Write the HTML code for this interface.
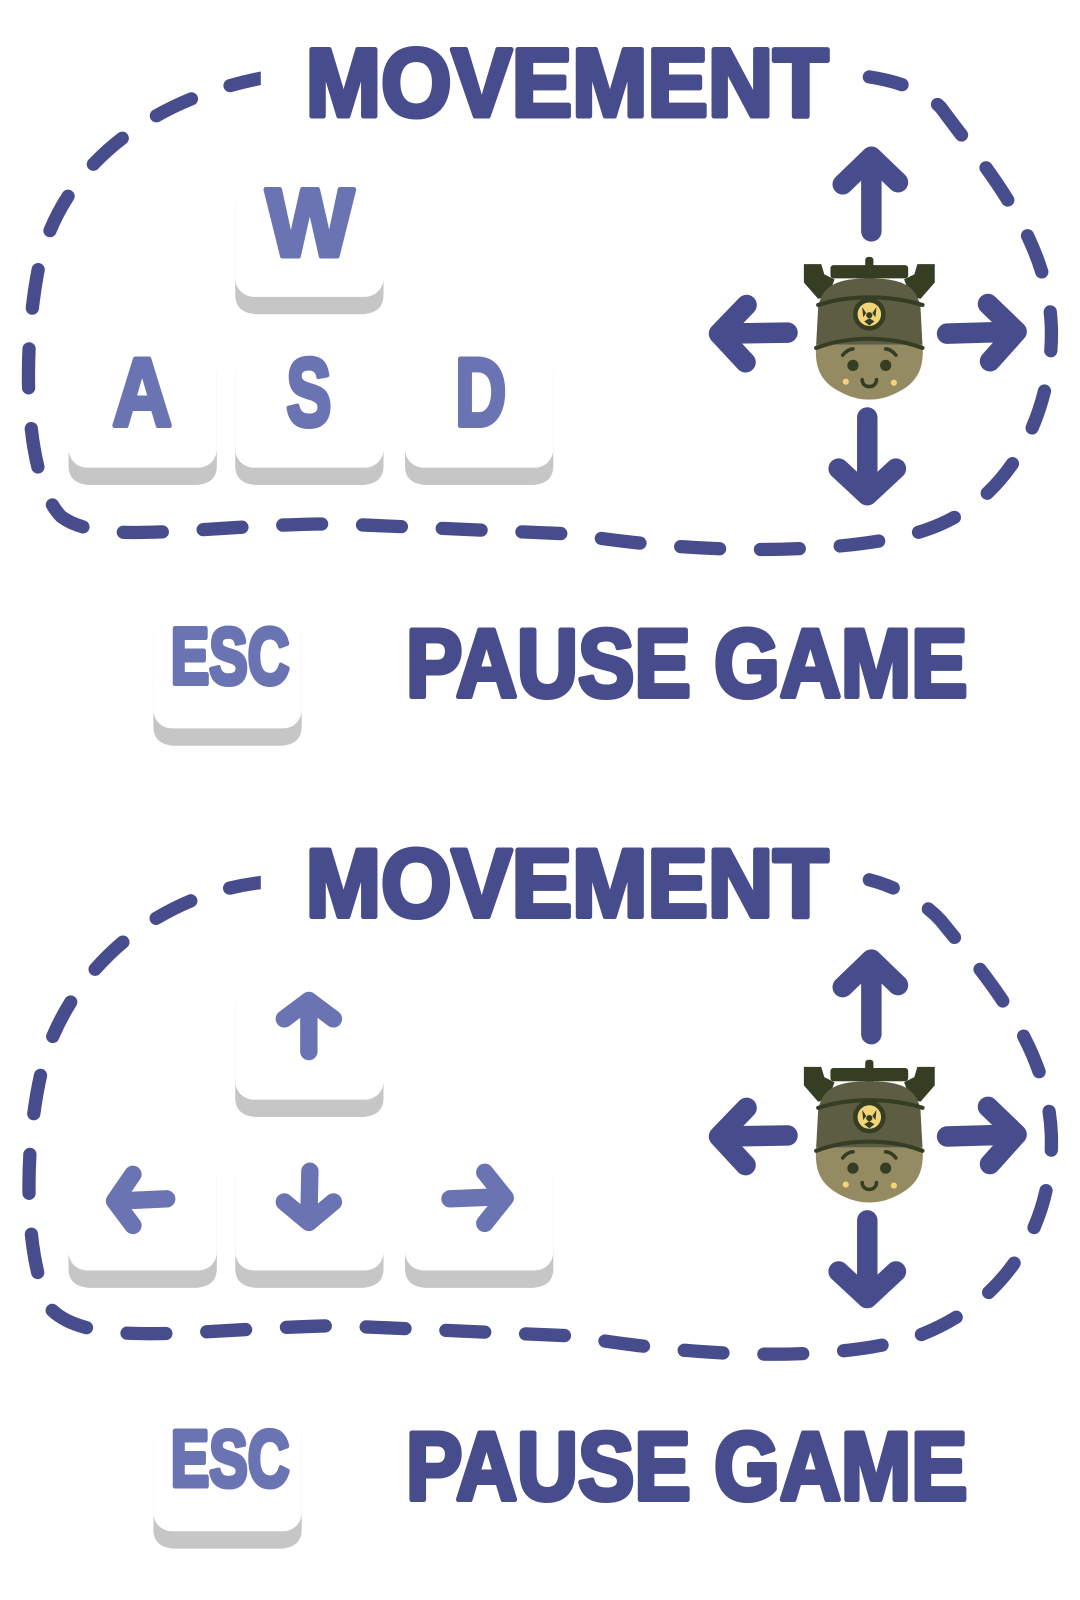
<!DOCTYPE html>
<html><head><meta charset="utf-8"><style>
html,body{margin:0;padding:0;background:#fff;width:1080px;height:1600px;overflow:hidden}
svg{display:block}
text{font-family:"Liberation Sans",sans-serif;font-weight:bold;stroke-width:5;stroke-linejoin:round}
</style></head><body>
<svg width="1080" height="1600" viewBox="0 0 1056 1564" xmlns="http://www.w3.org/2000/svg">
<defs>
<g id="char">
  <path d="M786,258 L803,258 L806,268 L816,273 L810,289 L800,292 L786,276 Z" fill="#353d23"/>
  <path d="M914,258 L897,258 L894,268 L884,273 L890,289 L900,292 L914,276 Z" fill="#353d23"/>
  <rect x="812" y="259" width="76" height="13" rx="3" fill="#353d23"/>
  <rect x="846" y="251" width="8" height="36" rx="3" fill="#353d23"/>
  <path d="M800,300 C804,278 820,272 850,272 C880,272 896,278 900,300 L902,337 L798,337 Z" fill="#5c5d43"/>
  <path d="M798,337 L902,337 C904,362 896,376 872,386 C858,392 842,392 828,386 C804,376 796,362 798,337 Z" fill="#958b62"/>
  <path d="M800,298 C830,288 870,288 902,298" stroke="#353d23" stroke-width="4" fill="none" stroke-linecap="round"/>
  <path d="M798,340 C830,328 870,328 902,340" stroke="#353d23" stroke-width="4" fill="none" stroke-linecap="round"/>
  <circle cx="850" cy="307" r="16" fill="#353d23"/>
  <circle cx="850" cy="307" r="11.5" fill="#f2d479"/>
  <circle cx="850" cy="308" r="3" fill="#353d23"/>
  <path d="M843,300 L847,306 L844,310 Z M857,300 L853,306 L856,310 Z M845,314 L850,311 L855,314 L850,318 Z" fill="#353d23"/>
  <path d="M824,347 C827,343 831,341 834,341" stroke="#353d23" stroke-width="3.5" fill="none" stroke-linecap="round"/>
  <path d="M876,347 C873,343 869,341 866,341" stroke="#353d23" stroke-width="3.5" fill="none" stroke-linecap="round"/>
  <circle cx="834" cy="357" r="5.5" fill="#353d23"/>
  <circle cx="866" cy="357" r="5.5" fill="#353d23"/>
  <circle cx="827" cy="373" r="3" fill="#f5d27a"/>
  <circle cx="874" cy="374" r="3" fill="#f5d27a"/>
  <path d="M843,371 C843,380 857,380 857,371" stroke="#353d23" stroke-width="3.5" fill="none" stroke-linecap="round"/>
</g>
<g id="arrows" stroke="#464c8c" stroke-width="20" fill="none" stroke-linecap="round" stroke-linejoin="round">
  <path d="M852,226 L852,160 M824,180 L852,153 L878,178"/>
  <path d="M770,325 L706,326 M730,298 L703,326 L729,354"/>
  <path d="M926,326 L994,324 M966/297 L994,324 L968,353"/>
  <path d="M848,408 L848,480 M820,458 L848,484 L876,458"/>
</g>
<g id="key">
  <path d="M0,30 L0,122 C0,135 8,140 20,141 L125,141 C137,140 145,135 145,122 L145,30 Z" fill="#c6c6c6"/>
  <rect x="0" y="0" width="145" height="124" rx="18" fill="#fff"/>
</g>
</defs>

<!-- PANEL 1 -->
<g>
<path d="M262,75 C150,95 60,160 38,260 C20,350 25,470 60,505 C100,535 200,512 330,512 L560,522 C700,545 840,540 905,518 C990,490 1030,400 1028,320 C1025,230 960,160 920,105 C900,85 870,78 850,75" fill="none" stroke="#464c8c" stroke-width="13" stroke-linecap="round" stroke-dasharray="38 40"/>
<rect x="255" y="30" width="580" height="100" fill="#fff"/>
<text x="299" y="113" font-size="94" fill="#464c8c" stroke="#464c8c" textLength="511" lengthAdjust="spacingAndGlyphs">MOVEMENT</text>
<g><use href="#key" x="230" y="166"/><text x="260" y="250" font-size="94" fill="#6a74b2" stroke="#6a74b2" textLength="86" lengthAdjust="spacingAndGlyphs">W</text></g>
<g><use href="#key" x="67" y="333"/><text x="110" y="416" font-size="94" fill="#6a74b2" stroke="#6a74b2" textLength="58" lengthAdjust="spacingAndGlyphs">A</text></g>
<g><use href="#key" x="230" y="333"/><text x="280" y="416" font-size="94" fill="#6a74b2" stroke="#6a74b2" textLength="44" lengthAdjust="spacingAndGlyphs">S</text></g>
<g><use href="#key" x="396" y="333"/><text x="445" y="416" font-size="94" fill="#6a74b2" stroke="#6a74b2" textLength="50" lengthAdjust="spacingAndGlyphs">D</text></g>
<g stroke="#464c8c" stroke-width="20" fill="none" stroke-linecap="round" stroke-linejoin="round">
  <path d="M852,226 L852,160 M824,180 L852,153 L878,178"/>
  <path d="M770,325 L706,326 M730,298 L703,326 L729,354"/>
  <path d="M926,326 L994,324 M966,297 L994,324 L968,353"/>
  <path d="M848,408 L848,480 M820,458 L848,484 L876,458"/>
</g>
<use href="#char"/>
<g><use href="#key" x="150" y="588"/><text x="167" y="668" font-size="78" fill="#6a74b2" stroke="#6a74b2" textLength="116" lengthAdjust="spacingAndGlyphs">ESC</text></g>
<text x="397" y="681" font-size="94" fill="#464c8c" stroke="#464c8c" textLength="549" lengthAdjust="spacingAndGlyphs">PAUSE GAME</text>
</g>

<!-- PANEL 2 -->
<g>
<path d="M262,862 C170,870 80,930 45,1030 C22,1110 22,1230 50,1280 C90,1320 200,1298 330,1296 L560,1306 C700,1330 830,1330 900,1305 C990,1270 1030,1190 1028,1110 C1025,1020 960,950 920,900 C900,878 870,865 850,860" fill="none" stroke="#464c8c" stroke-width="13" stroke-linecap="round" stroke-dasharray="38 40"/>
<rect x="255" y="815" width="580" height="100" fill="#fff"/>
<text x="299" y="896" font-size="94" fill="#464c8c" stroke="#464c8c" textLength="511" lengthAdjust="spacingAndGlyphs">MOVEMENT</text>
<g><use href="#key" x="230" y="951"/>
<path d="M302,1028 L302,982 M278,996 L302,978 L326,996" stroke="#6a74b2" stroke-width="17" fill="none" stroke-linecap="round" stroke-linejoin="round"/></g>
<g><use href="#key" x="67" y="1118"/>
<path d="M163,1172 L118,1174 M130,1148 L112,1174 L130,1198" stroke="#6a74b2" stroke-width="17" fill="none" stroke-linecap="round" stroke-linejoin="round"/></g>
<g><use href="#key" x="230" y="1118"/>
<path d="M303,1145 L302,1190 M278,1175 L302,1195 L326,1175" stroke="#6a74b2" stroke-width="17" fill="none" stroke-linecap="round" stroke-linejoin="round"/></g>
<g><use href="#key" x="396" y="1118"/>
<path d="M440,1172 L488,1170 M474,1146 L494,1171 L474,1196" stroke="#6a74b2" stroke-width="17" fill="none" stroke-linecap="round" stroke-linejoin="round"/></g>
<g transform="translate(0,785)" stroke="#464c8c" stroke-width="20" fill="none" stroke-linecap="round" stroke-linejoin="round">
  <path d="M852,226 L852,160 M824,180 L852,153 L878,178"/>
  <path d="M770,325 L706,326 M730,298 L703,326 L729,354"/>
  <path d="M926,326 L994,324 M966,297 L994,324 L968,353"/>
  <path d="M848,408 L848,480 M820,458 L848,484 L876,458"/>
</g>
<use href="#char" y="785"/>
<g><use href="#key" x="150" y="1373"/><text x="167" y="1453" font-size="78" fill="#6a74b2" stroke="#6a74b2" textLength="116" lengthAdjust="spacingAndGlyphs">ESC</text></g>
<text x="397" y="1466" font-size="94" fill="#464c8c" stroke="#464c8c" textLength="549" lengthAdjust="spacingAndGlyphs">PAUSE GAME</text>
</g>
</svg>
</body></html>
